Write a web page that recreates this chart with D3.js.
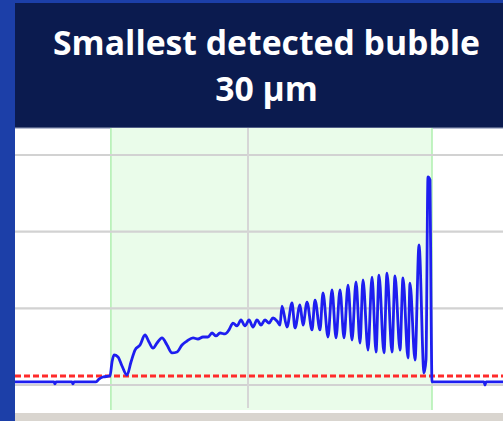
<!DOCTYPE html>
<html>
<head>
<meta charset="utf-8">
<script src="https://cdn.jsdelivr.net/npm/d3@7"></script>
<style>
  html, body { margin: 0; padding: 0; background: #1c3fa8; }
  svg { display: block; }
</style>
</head>
<body>
<svg id="chart" width="503" height="421"></svg>
<script>
// Title lines
const titleLines = ["Smallest detected bubble", "30 µm"];

// Acoustic trace: time (ms) and amplitude (V)
const timeMs = [
  0.225, 0.737, 1.024, 1.045, 1.065, 1.393, 1.414, 1.434, 1.885, 1.946,
  2.028, 2.172, 2.213, 2.254, 2.336, 2.418, 2.520, 2.602, 2.684, 2.787,
  2.889, 2.971, 3.053, 3.135, 3.237, 3.340, 3.442, 3.545, 3.647, 3.750,
  3.873, 3.975, 4.077, 4.180, 4.262, 4.344, 4.426, 4.528, 4.610, 4.692,
  4.774, 4.856, 4.938, 5.020, 5.102, 5.184, 5.266, 5.348, 5.430, 5.512,
  5.594, 5.655, 5.696, 5.799, 5.901, 5.963, 6.065, 6.127, 6.209, 6.311,
  6.373, 6.475, 6.536, 6.639, 6.721, 6.803, 6.885, 6.967, 7.049, 7.131,
  7.213, 7.295, 7.356, 7.459, 7.541, 7.623, 7.684, 7.786, 7.848, 7.950,
  8.012, 8.114, 8.176, 8.278, 8.319, 8.422, 8.504, 8.606, 8.647, 8.688,
  8.729, 8.750, 8.770, 9.836, 9.856, 9.877, 10.225
];
const amplitude = [
  0.020, 0.020, 0.020, 0.007, 0.020, 0.020, 0.007, 0.020, 0.020, 0.039,
  0.052, 0.059, 0.150, 0.196, 0.183, 0.124, 0.065, 0.150, 0.228, 0.261,
  0.326, 0.280, 0.241, 0.274, 0.307, 0.261, 0.209, 0.215, 0.261, 0.287,
  0.307, 0.300, 0.313, 0.313, 0.339, 0.320, 0.339, 0.333, 0.359, 0.404,
  0.385, 0.424, 0.385, 0.424, 0.378, 0.424, 0.391, 0.424, 0.404, 0.437,
  0.417, 0.391, 0.515, 0.378, 0.535, 0.372, 0.522, 0.391, 0.541, 0.359,
  0.554, 0.359, 0.600, 0.313, 0.620, 0.307, 0.620, 0.307, 0.652, 0.293,
  0.672, 0.274, 0.685, 0.228, 0.704, 0.215, 0.717, 0.209, 0.730, 0.215,
  0.711, 0.228, 0.698, 0.176, 0.665, 0.163, 0.913, 0.078, 0.163, 1.357,
  1.337, 0.554, 0.020, 0.020, 0.000, 0.020, 0.020
];

// Detection threshold and detection window
const threshold = [0.059];
const detectionWindow = [2.19, 8.77];

// Grid values
const gridY = [0, 0.5, 1.0, 1.5];
const gridX = [5];

const svg = d3.select("#chart");
const W = 503, H = 421;

// Frame
svg.append("rect").attr("x", 0).attr("y", 0).attr("width", W).attr("height", H).attr("fill", "#1c3fa8");
svg.append("rect").attr("x", 15).attr("y", 3).attr("width", W - 15).attr("height", 125).attr("fill", "#0b1b4f");

const panel = { left: 15, right: 503, top: 128, bottom: 413 };
svg.append("rect").attr("x", panel.left).attr("y", panel.top)
  .attr("width", panel.right - panel.left).attr("height", panel.bottom - panel.top)
  .attr("fill", "#ffffff");
svg.append("rect").attr("x", panel.left).attr("y", 127.5)
  .attr("width", panel.right - panel.left).attr("height", 1.2).attr("fill", "#9aa3bf");
svg.append("rect").attr("x", panel.left).attr("y", panel.bottom)
  .attr("width", panel.right - panel.left).attr("height", H - panel.bottom).attr("fill", "#d9d5cf");

svg.append("clipPath").attr("id", "plotClip")
  .append("rect").attr("x", panel.left).attr("y", panel.top)
  .attr("width", panel.right - panel.left).attr("height", 282);

const x = d3.scaleLinear().domain([0.225, 10.225]).range([15, 503]);
const y = d3.scaleLinear().domain([0, 1.5]).range([385, 155]);

const plot = svg.append("g").attr("clip-path", "url(#plotClip)");
const plotBottom = 410;

// Detection window shading
plot.append("rect")
  .attr("x", x(detectionWindow[0])).attr("y", panel.top)
  .attr("width", x(detectionWindow[1]) - x(detectionWindow[0]))
  .attr("height", plotBottom - panel.top)
  .attr("fill", "#eafcea");
plot.selectAll("line.win").data(detectionWindow).join("line")
  .attr("class", "win")
  .attr("x1", d => x(d)).attr("x2", d => x(d))
  .attr("y1", panel.top).attr("y2", plotBottom)
  .attr("stroke", "#b4f0b4").attr("stroke-width", 1.6);

// Grid
plot.selectAll("line.gy").data(gridY).join("line")
  .attr("class", "gy")
  .attr("x1", panel.left).attr("x2", panel.right)
  .attr("y1", d => y(d)).attr("y2", d => y(d))
  .attr("stroke", "#d2d2d2").attr("stroke-width", 2.2);
plot.selectAll("line.gx").data(gridX).join("line")
  .attr("class", "gx")
  .attr("x1", d => x(d)).attr("x2", d => x(d))
  .attr("y1", panel.top).attr("y2", 408)
  .attr("stroke", "#d6d6d6").attr("stroke-width", 2);

// Threshold
plot.selectAll("line.thr").data(threshold).join("line")
  .attr("class", "thr")
  .attr("x1", panel.left).attr("x2", panel.right)
  .attr("y1", d => y(d)).attr("y2", d => y(d))
  .attr("stroke", "#ff2b2b").attr("stroke-width", 3)
  .attr("stroke-dasharray", "6,3");

// Trace
const pts = timeMs.map((t, i) => [t, amplitude[i]]);
plot.append("path")
  .datum(pts)
  .attr("fill", "none")
  .attr("stroke", "#1e1ef0")
  .attr("stroke-width", 2.8)
  .attr("stroke-linejoin", "round")
  .attr("d", d3.line().x(d => x(d[0])).y(d => y(d[1])).curve(d3.curveMonotoneX));

// Title
const title = svg.append("g").attr("fill", "#ffffff")
  .attr("font-family", "'Open Sans', 'Noto Sans', sans-serif")
  .attr("font-weight", "bold")
  .attr("text-anchor", "middle");
const baseSize = 30;
const t1 = title.append("text").attr("x", 266.5).attr("y", 55).attr("font-size", baseSize).text(titleLines[0]);
const w1 = t1.node().getComputedTextLength();
const size = baseSize * 427 / w1;
t1.attr("font-size", size);
title.append("text").attr("x", 266.5).attr("y", 101).attr("font-size", size).text(titleLines[1]);
</script>
</body>
</html>
